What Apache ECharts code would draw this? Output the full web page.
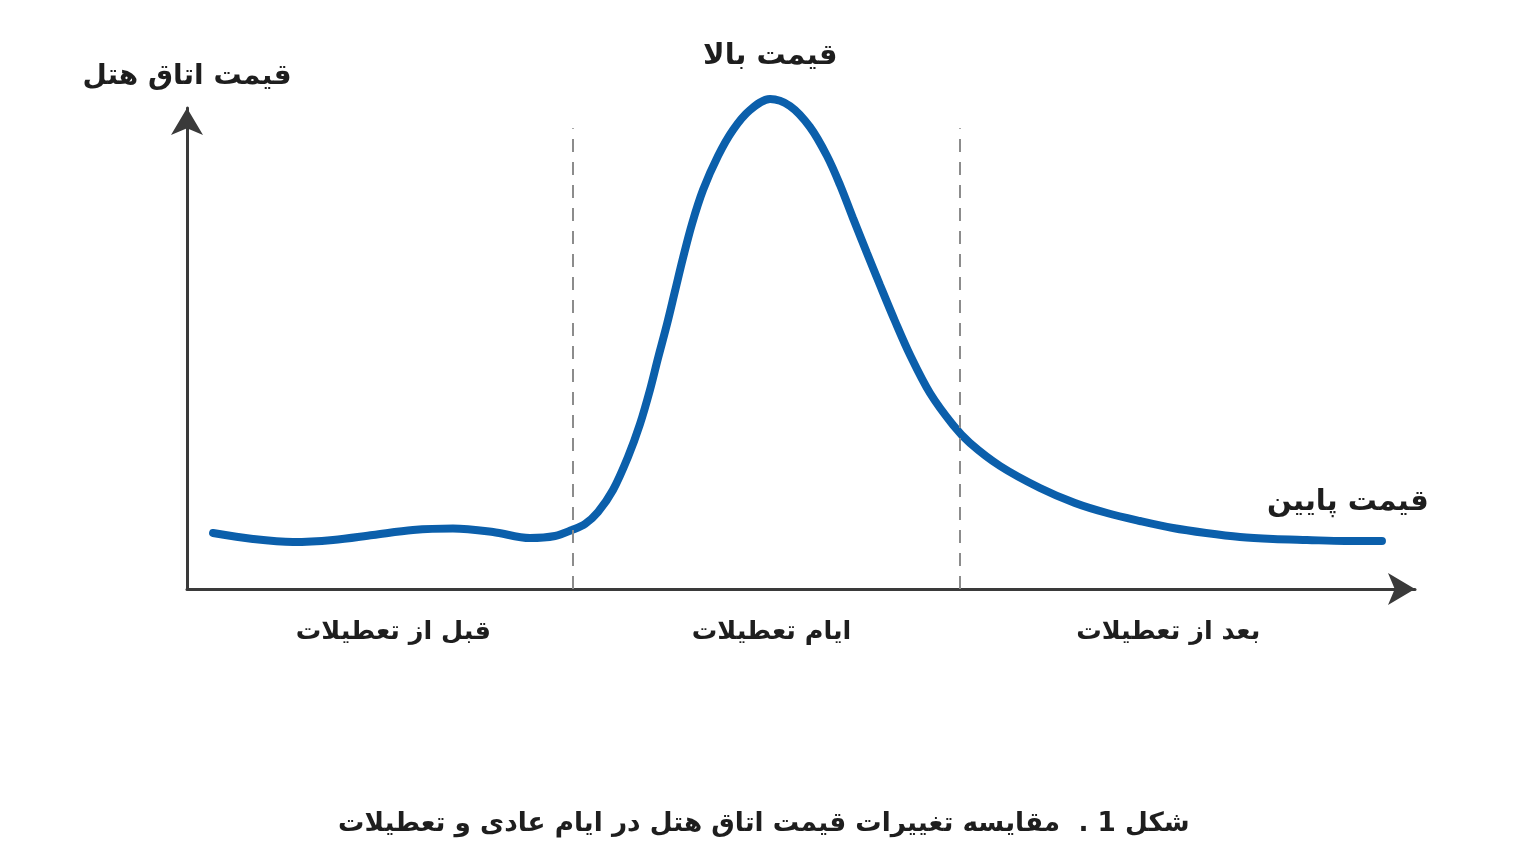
<!DOCTYPE html>
<html>
<head>
<meta charset="utf-8">
<script src="https://cdn.jsdelivr.net/npm/echarts@6/dist/echarts.min.js"></script>
<style>
html, body { margin: 0; padding: 0; background: #fff; }
#chart { width: 1536px; height: 863px; }
</style>
</head>
<body>
<div id="chart"></div>
<script>
// داده‌های منحنی قیمت (محور افقی: زمان، محور عمودی: قیمت)
const timeX = [2.12, 5.37, 8.63, 11.89, 15.15, 18.40, 21.66, 24.92, 27.93, 29.97, 31.35, 32.41, 33.47, 34.69, 35.91,
  36.89, 37.70, 38.36, 39.09, 39.74, 40.39, 41.12, 42.02, 43.24, 44.46, 45.85, 47.48, 49.10, 50.73, 52.12, 53.18,
  54.23, 55.37, 56.43, 57.65, 58.88, 60.50, 62.38, 63.76, 66.21, 69.46, 72.31, 74.92, 77.61, 80.29, 82.98, 85.75,
  88.44, 91.21, 94.30, 97.31];
const priceY = [11.64, 10.40, 9.77, 10.19, 11.23, 12.27, 12.58, 11.85, 10.60, 11.02, 12.27, 13.51, 16.01, 20.58, 27.44,
  34.30, 41.37, 48.02, 55.09, 61.95, 68.81, 75.88, 82.95, 90.02, 95.43, 99.58, 101.87, 100.42, 96.05, 90.02, 83.99,
  77.13, 69.85, 63.20, 55.72, 48.65, 40.75, 34.10, 30.35, 25.57, 21.00, 17.88, 15.80, 14.14, 12.68, 11.64, 10.81,
  10.40, 10.19, 9.98, 9.98];

// مرز دوره‌ها و برچسب‌ها
const periodBounds = [31.4, 62.9];
const periodLabelX = [16.8, 47.6, 79.9];
const periodNames = ['قبل از تعطیلات', 'ایام تعطیلات', 'بعد از تعطیلات'];

const seriesData = timeX.map((x, i) => [x, priceY[i]]);
const fontFam = '"DejaVu Sans", "Noto Sans", sans-serif';

const chart = echarts.init(document.getElementById('chart'));
const option = {
  backgroundColor: '#fff',
  animation: false,
  title: {
    text: 'شکل 1 .  مقایسه تغییرات قیمت اتاق هتل در ایام عادی و تعطیلات',
    left: 333,
    top: 806,
    textStyle: { fontFamily: fontFam, fontSize: 26.3, fontWeight: 'bold', color: '#1e1e1e' }
  },
  grid: { left: 187, right: 121, top: 108, bottom: 274 },
  xAxis: {
    type: 'value',
    min: 0,
    max: 100,
    splitLine: { show: false },
    axisTick: { show: false },
    axisLine: {
      show: true,
      symbol: ['none', 'arrow'],
      symbolSize: [24, 27],
      lineStyle: { color: '#3a3a3a', width: 3 }
    },
    axisLabel: {
      customValues: periodLabelX,
      formatter: (v) => periodNames[periodLabelX.indexOf(v)] || '',
      margin: 30,
      fontFamily: fontFam,
      fontSize: 25.5,
      fontWeight: 'bold',
      color: '#1e1e1e'
    }
  },
  yAxis: {
    type: 'value',
    min: 0,
    max: 100,
    name: 'قیمت اتاق هتل',
    nameLocation: 'end',
    nameGap: 17,
    nameTextStyle: { fontFamily: fontFam, fontSize: 28, fontWeight: 'bold', color: '#1e1e1e', align: 'center' },
    splitLine: { show: false },
    axisTick: { show: false },
    axisLabel: { show: false },
    axisLine: {
      show: true,
      symbol: ['none', 'arrow'],
      symbolSize: [24, 27],
      lineStyle: { color: '#3a3a3a', width: 3 }
    }
  },
  series: [{
    type: 'line',
    data: seriesData,
    smooth: 0.33,
    clip: false,
    showSymbol: false,
    lineStyle: { color: '#0b5fab', width: 8, cap: 'round' },
    markLine: {
      silent: true,
      symbol: 'none',
      label: { show: false },
      lineStyle: { color: '#8c8c8c', width: 2, type: [13, 10] },
      data: periodBounds.map(b => [{ coord: [b, 0] }, { coord: [b, 95.8] }])
    },
    markPoint: {
      symbol: 'circle',
      symbolSize: 0,
      data: [
        { coord: [47.5, 100], label: { formatter: 'قیمت بالا', position: 'top', distance: 37 } },
        { coord: [97.3, 10.0], label: { formatter: 'قیمت پایین', position: 'top', offset: [-34, -12], distance: 12 } }
      ],
      label: { show: true, fontFamily: fontFam, fontSize: 29, fontWeight: 'bold', color: '#1e1e1e' }
    }
  }]
};
chart.setOption(option);
</script>
</body>
</html>
